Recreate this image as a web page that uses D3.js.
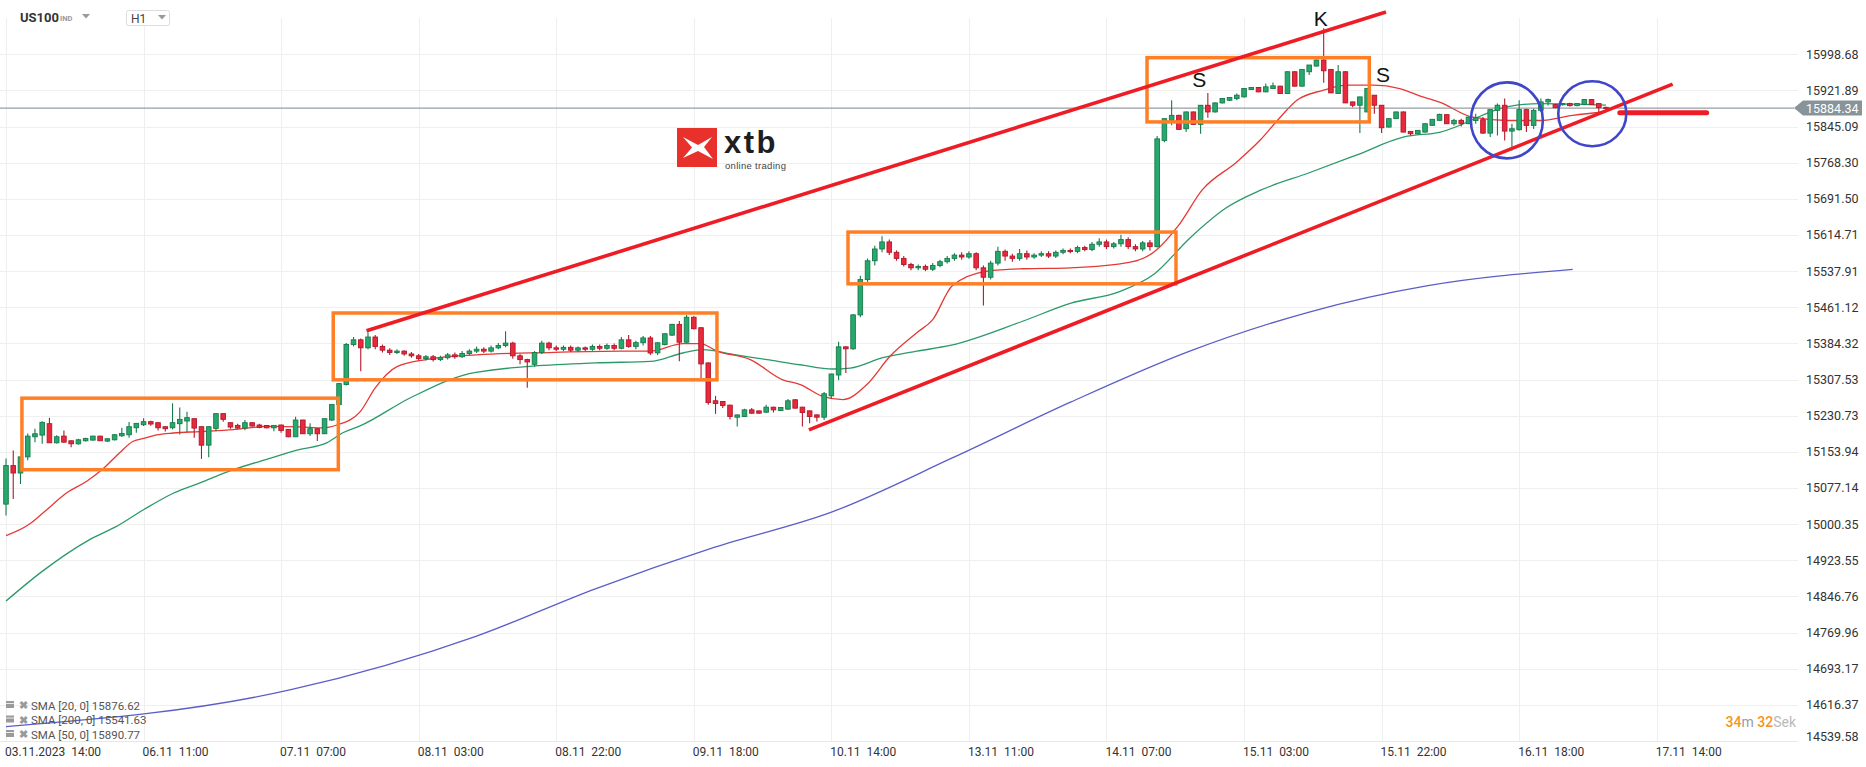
<!DOCTYPE html>
<html><head><meta charset="utf-8">
<script src="https://cdn.jsdelivr.net/npm/d3@7"></script>
<style>
body{margin:0;background:#fff;}
svg{display:block;font-family:Roboto,"Liberation Sans",Arial,sans-serif;}
</style>
</head><body>
<svg id="chart" width="1866" height="767"></svg>
<script>
// ---------------- DATA ----------------
const opens = [15042.9,15124.8,15109,15143.3,15186,15189.6,15213.8,15173.2,15187.4,15177.5,15171.1,15177.5,15178.9,15187.4,15176.8,15179.6,15188.2,15190.3,15205.2,15211.6,
15218.1,15215.9,15207.4,15205.2,15213.8,15219.5,15224.5,15207.4,15168.2,15203.8,15235.2,15215.9,15210.2,15204.5,15215.9,15211,15210,15205,15211,15201.7,
15186,15221.6,15192.4,15203.1,15192.4,15221.6,15254.4,15297,15382,15392,15375,15398,15378,15370,15365,15368,15362,15358,15352,15356,
15350,15354,15360,15356,15363,15368,15372,15368,15375,15380,15385,15358,15350,15340,15365,15385,15375,15372,15376,15370,
15375,15372,15378,15374,15380,15374,15392,15378,15386,15396,15364.3,15382,15402,15424.8,15387,15440,15417.7,15342.9,15262.5,15261,
15253.2,15227.6,15229,15243.2,15241,15238.2,15248.9,15241.8,15244.7,15264.6,15248.9,15241,15232.5,15227.6,15273,15317.3,15377.1,15372.9,15445,15520,
15560,15585,15600,15578,15565,15552,15545,15548,15542,15550,15558,15565,15572,15568,15575,15545,15525,15555,15580,15570,
15565,15575,15568,15572,15575,15570,15578,15582,15580,15588,15584,15595,15600,15590,15596,15605,15590,15585,15598,15590,
15815.6,15858.4,15869,15840.5,15876.2,15849.8,15890.4,15876.2,15895.4,15901,15904.7,15908.2,15924,15928.2,15918.9,15926,15931,15915.3,15961.6,15931,
15961.6,15973.7,15986.5,15966.6,15915.3,15961.6,15897.5,15890.4,15876.2,15911.8,15890.4,15844.1,15861.9,15876.2,15834.8,15829.9,15833.4,15847.7,15858.4,15870.4,
15851.2,15858.3,15851.2,15858,15859.7,15831.2,15879.6,15890.4,15835.5,15838.4,15881.1,15847.6,15879.6,15897.5,15891.8,15892,15894,15889.6,15891.8,15902.5,
15894,15886];
const highs = [15139.7,15156.8,15143.3,15193.1,15203,15218.8,15226.6,15189,15199.5,15178,15181.8,15184,15188,15188,15183,15192,15205.2,15217.3,15215,15225.2,
15220.2,15216.5,15208,15257.2,15248,15239.4,15225,15208,15208.8,15235.2,15235.5,15216.5,15213.8,15221.6,15216.5,15213.8,15211,15210.8,15211.5,15202,
15228.7,15222,15214.5,15203.5,15224.5,15254.4,15300,15385,15398,15395,15408,15402,15382,15374,15372,15370,15366,15362,15360,15360,
15358,15364,15365,15368,15372,15378,15376,15380,15385,15410,15388,15362,15352,15368,15390,15388,15380,15380,15380,15378,
15378,15382,15382,15384,15384,15398,15402,15390,15400,15400,15387,15406,15426,15432,15445,15442,15419,15344,15273,15262,
15254,15233,15245.5,15247,15242,15253.9,15250,15249,15266,15266,15250,15242,15233.5,15281,15320,15387.8,15378,15447,15528,15565,
15592,15612,15605,15582,15570,15556,15552,15552,15555,15562,15570,15576,15578,15580,15578,15550,15560,15590,15584,15575,
15585,15582,15576,15580,15580,15582,15586,15586,15592,15592,15600,15608,15605,15600,15615,15610,15595,15602,15604,15825,
15862,15901,15870,15877,15877,15891,15916.7,15896,15905.5,15907.5,15915.3,15927,15929,15929,15936.7,15938.8,15932,15962.5,15962.5,15967.5,
15975.9,15987.5,16054,15967.5,15975.9,15963,15898,15908.2,15926,15912,15891,15863,15877,15877,15835.5,15838,15852,15861,15872.5,15871,
15861.9,15861.9,15866,15872.5,15865.4,15881.5,15893.9,15904.6,15851.2,15901,15883,15883,15904.6,15905,15893,15895,15895.5,15895,15903.5,15903.5,
15895,15887];
const lows = [15018.7,15053.6,15085.6,15136.2,15174.6,15171.1,15173,15171.8,15173.2,15164,15169,15176,15178,15177,15175,15178,15185.3,15183.9,15194.6,15208.8,
15209.5,15199.5,15197.4,15201.7,15191,15196,15183.9,15139,15142.6,15198,15218,15203,15203,15200,15208,15204,15204,15198,15194.6,15185,
15185.5,15192,15187.4,15176.8,15192,15219.5,15252,15295,15378,15325,15372,15372,15365,15360,15362,15358,15354,15348,15348,15346,
15347,15350,15352,15354,15360,15364,15364,15365,15372,15376,15352,15340,15290,15335,15362,15370,15368,15368,15366,15366,
15368,15369,15370,15371,15370,15372,15375,15372,15380,15360,15360,15380,15400,15346.5,15385,15414,15310.9,15253.9,15234.7,15247,
15222.6,15207.6,15228,15235,15235,15237,15237.5,15240.5,15243.5,15246,15207.6,15214.8,15218.3,15221.9,15266.7,15305.9,15321.6,15371,15440,15515,
15550,15578,15572,15560,15548,15540,15540,15538,15538,15546,15554,15560,15562,15564,15540,15465,15520,15550,15560,15558,
15560,15562,15564,15568,15566,15566,15574,15576,15576,15580,15580,15590,15585,15586,15590,15585,15580,15580,15582,15588,
15812,15847.7,15838,15833.4,15849,15829.9,15864,15875,15894,15900,15901,15907,15923,15918,15918,15925,15915,15914.5,15929.6,15930,
15954.5,15973,15938,15916.7,15915,15895,15886,15831.3,15876,15872.6,15831.3,15843,15861,15833,15826,15829,15832.5,15847,15857.5,15851,
15847.6,15845.5,15850.5,15851,15829.8,15822.7,15826.2,15815.6,15794.2,15836.9,15833.4,15840,15876,15890,15884,15890,15888,15888.5,15890.5,15891,
15876.1,15882.5];
const closes = [15124.8,15109,15143.3,15187.4,15192.4,15216.6,15173.2,15186,15174.6,15171.1,15179.6,15182.5,15187.4,15177.5,15181.8,15190.3,15193.1,15207.4,15214.5,15218.1,
15213.1,15205.2,15203.1,15215.9,15223,15226.6,15204.5,15168.2,15207.4,15235.2,15223,15206.7,15204.5,15215.9,15208.8,15206,15205,15210.2,15199.5,15186,
15221.6,15192.4,15203.1,15192.4,15224.5,15254.4,15299,15382,15392,15375,15398,15378,15370,15365,15368,15362,15358,15352,15356,15350,
15354,15360,15356,15363,15368,15372,15368,15375,15380,15385,15358,15350,15345,15365,15385,15375,15372,15376,15370,15375,
15372,15378,15374,15380,15374,15392,15378,15386,15396,15364,15385.7,15404.9,15424.8,15387,15440,15415.6,15340.8,15258.9,15256.8,15252.5,
15229,15232.5,15243.2,15236.1,15236.1,15248.9,15243.2,15248.2,15262.5,15246.8,15237.5,15229,15227.6,15277.4,15319.4,15377.1,15372.9,15445,15520,15560,
15585,15600,15578,15565,15552,15545,15548,15542,15550,15558,15565,15572,15568,15575,15545,15525,15555,15580,15570,15565,
15575,15568,15572,15575,15570,15578,15582,15580,15588,15584,15595,15600,15590,15596,15605,15590,15585,15598,15590,15819,
15861.9,15869,15839.1,15876.2,15849.8,15890.4,15876.2,15895.4,15904.7,15906.8,15911.8,15926,15928.2,15918.9,15929.6,15931.7,15915.3,15961.6,15931,15966.6,
15975.9,15986.5,15963.7,15916.7,15961.6,15895.4,15890.4,15908.2,15926,15890.4,15842.6,15861.9,15876.2,15833.4,15829.9,15837,15851.2,15860.5,15871,15851.2,
15858.3,15851.2,15865.4,15864,15831.2,15881.1,15890.4,15835.5,15840.5,15881.1,15847.6,15879.6,15897.5,15902.5,15885.4,15894,15889.6,15894,15902.5,15891.8,
15885.4,15884.34];

// moving averages: [bar index, value]
const sma20 = [[0,14976],[3.1,14999],[5.1,15024],[8.4,15067],[11.1,15091],[13.4,15118],[15.7,15152],[17.5,15176],[18.9,15182],[20.8,15190],[23.1,15194],[26.8,15197],[31.4,15201],[36,15208],[40.6,15207],[43.8,15205],[45.7,15211],[48.9,15239],[51,15290],[54,15335],[58,15350],[65,15360],[75,15365],[85,15368],[89,15368],[93.5,15384],[95.9,15384],[98.2,15368],[102.8,15350],[107.3,15307],[109.7,15297],[112.8,15272],[115.6,15265],[118.9,15297],[122.1,15357],[125.8,15407],[128,15435],[130.7,15507],[135.6,15538],[140.5,15543],[147,15545],[155.3,15557],[158.6,15579],[161.9,15634],[165.2,15710],[170,15770],[173.2,15816],[176,15865],[178.3,15901],[181.9,15922],[185.2,15933],[188.9,15933],[192.5,15926],[195.7,15908],[198,15897],[202.6,15865],[207.3,15858],[211.9,15858],[216.4,15869],[221,15876.62]];
const sma50 = [[0,14837],[5,14900],[11.5,14967],[15.2,14995],[19,15031],[23.1,15066],[26.8,15088],[31.4,15116],[36,15138],[40.6,15159],[44.3,15173],[46.6,15195],[48.9,15209],[56,15270],[64.9,15323],[81.4,15343],[89,15346],[93.5,15364],[96.3,15371],[100.4,15361],[105.1,15350],[109.7,15339],[114.2,15330],[116.6,15332],[121.1,15354],[125.8,15368],[130.4,15380],[140.5,15432],[147.1,15470],[153.7,15494],[158.6,15532],[163.5,15608],[168.5,15672],[173.3,15710],[180,15747],[186.6,15785],[193.1,15823],[198,15833],[207.3,15887],[211.9,15894],[221,15890.77]];
const sma200 = [[0,14570],[39.2,14648],[64.9,14762],[81.4,14863],[97.8,14951],[114.2,15027],[130.7,15141],[147.1,15260],[163.5,15368],[180,15451],[196.4,15507],[216.4,15541.63]];

const yTicks = [14539.58,14616.37,14693.17,14769.96,14846.76,14923.55,15000.35,15077.14,15153.94,15230.73,15307.53,15384.32,15461.12,15537.91,15614.71,15691.50,15768.30,15845.09,15921.89,15998.68];
const xTickBars = [0,19,38,57,76,95,114,133,152,171,190,209,228];
const xTickLabels = ["03.11.2023  14:00","06.11  11:00","07.11  07:00","08.11  03:00","08.11  22:00","09.11  18:00","10.11  14:00","13.11  11:00","14.11  07:00","15.11  03:00","15.11  22:00","16.11  18:00","17.11  14:00"];
const lastPrice = 15884.34;

// annotations in data space [bar, price]
const boxes = [[[2.2,15268],[45.9,15116]],[[45.2,15449],[98.2,15307]],[[116.3,15621],[161.6,15511]],[[157.6,15991.5],[188.3,15855]]];
const trendLines = [[[49.8,15411.4],[190.6,16088.5]],[[110.9,15200.5],[230.2,15935.2]]];
const levelLine = [[222.9,15874.7],[234.9,15874.7]];
const circles = [[207.3,15858.3],[219.1,15872.5]];
const labels = [["K",181.6,16058],["S",164.8,15930],["S",190.2,15940.5]];
const legendItems = ["SMA [20, 0] 15876.62","SMA [200, 0] 15541.63","SMA [50, 0] 15890.77"];

// ---------------- DRAW ----------------
const W = 1866, H = 767;
const plotRight = 1798, axisY = 741;
const svg = d3.select("#chart");
const x = d3.scaleLinear().domain([0,228]).range([6, 6+7.24*228]);
const y = d3.scaleLinear().domain([14539.58,15998.68]).range([741,54.3]);

svg.append("rect").attr("width",W).attr("height",H).attr("fill","#fff");

// grid
const grid = svg.append("g");
grid.selectAll(".hg").data(yTicks).join("line")
  .attr("x1",0).attr("x2",plotRight).attr("y1",d=>Math.round(y(d))+0.5).attr("y2",d=>Math.round(y(d))+0.5)
  .attr("stroke","#efefef").attr("stroke-width",1);
grid.selectAll(".vg").data(xTickBars).join("line")
  .attr("x1",d=>Math.round(x(d))+0.5).attr("x2",d=>Math.round(x(d))+0.5).attr("y1",18).attr("y2",axisY)
  .attr("stroke","#efefef").attr("stroke-width",1);
svg.append("line").attr("x1",0).attr("x2",plotRight).attr("y1",axisY+0.5).attr("y2",axisY+0.5).attr("stroke","#e8e8e8");

// logo
const logo = svg.append("g");
logo.append("rect").attr("x",677).attr("y",128).attr("width",40).attr("height",39).attr("fill","#e8312a");
logo.append("path").attr("d","M683 137 L698 145 L712 137 L704 147 L713 159 L698 151 L683 158 L692 147.5 Z").attr("fill","#fff");
logo.append("text").attr("x",724).attr("y",153).attr("font-size",31).attr("font-weight","bold").attr("fill","#1e1e1e").attr("font-family","Arial,'Liberation Sans',sans-serif").attr("letter-spacing",2.5).text("xtb");
logo.append("text").attr("x",725).attr("y",168.5).attr("font-size",9.5).attr("fill","#444").attr("font-family","Arial,'Liberation Sans',sans-serif").attr("letter-spacing",0.3).text("online trading");

// SMA lines
const line = d3.line().x(d=>x(d[0])).y(d=>y(d[1])).curve(d3.curveMonotoneX);
svg.append("path").datum(sma200).attr("d",line).attr("fill","none").attr("stroke","#5a5fc8").attr("stroke-width",1.3);
svg.append("path").datum(sma50).attr("d",line).attr("fill","none").attr("stroke","#2a9a68").attr("stroke-width",1.3);
svg.append("path").datum(sma20).attr("d",line).attr("fill","none").attr("stroke","#e53935").attr("stroke-width",1.3);

// price line
svg.append("line").attr("x1",0).attr("x2",plotRight-4).attr("y1",y(lastPrice)).attr("y2",y(lastPrice)).attr("stroke","#7d878c").attr("stroke-width",1);

// candles
const bars = d3.range(opens.length);
const bw = 4.6;
const cg = svg.append("g");
cg.selectAll(".wick").data(bars).join("line")
  .attr("x1",i=>x(i)).attr("x2",i=>x(i)).attr("y1",i=>y(highs[i])).attr("y2",i=>y(lows[i]))
  .attr("stroke",i=>closes[i]>=opens[i]?"#177a4b":"#b3172a").attr("stroke-width",1.1);
cg.selectAll(".body").data(bars).join("rect")
  .attr("x",i=>x(i)-bw/2).attr("width",bw)
  .attr("y",i=>y(Math.max(opens[i],closes[i])))
  .attr("height",i=>Math.max(1.2,Math.abs(y(opens[i])-y(closes[i]))))
  .attr("fill",i=>closes[i]>=opens[i]?"#27a96d":"#e8293b")
  .attr("stroke",i=>closes[i]>=opens[i]?"#177a4b":"#b3172a").attr("stroke-width",0.9);

// boxes
svg.selectAll(".box").data(boxes).join("rect")
  .attr("x",d=>x(d[0][0])).attr("y",d=>y(d[0][1]))
  .attr("width",d=>x(d[1][0])-x(d[0][0])).attr("height",d=>y(d[1][1])-y(d[0][1]))
  .attr("fill","none").attr("stroke","#ff7f27").attr("stroke-width",3.5);

// trend lines
svg.selectAll(".tl").data(trendLines).join("line")
  .attr("x1",d=>x(d[0][0])).attr("y1",d=>y(d[0][1])).attr("x2",d=>x(d[1][0])).attr("y2",d=>y(d[1][1]))
  .attr("stroke","#ee1c25").attr("stroke-width",3.6);
svg.append("line").attr("x1",x(levelLine[0][0])).attr("x2",x(levelLine[1][0])).attr("y1",y(levelLine[0][1])).attr("y2",y(levelLine[1][1]))
  .attr("stroke","#ee1c25").attr("stroke-width",5).attr("stroke-linecap","round");

// circles
const radii = [[36,38],[34,32.5]];
svg.selectAll(".circ").data(circles).join("ellipse")
  .attr("cx",d=>x(d[0])).attr("cy",d=>y(d[1])).attr("rx",(d,i)=>radii[i][0]).attr("ry",(d,i)=>radii[i][1])
  .attr("fill","none").attr("stroke","#3f46c9").attr("stroke-width",2.6);

// K / S labels
svg.selectAll(".lab").data(labels).join("text")
  .attr("x",d=>x(d[1])).attr("y",d=>y(d[2])).attr("text-anchor","middle")
  .attr("font-size",21).attr("font-family","Arial,'Liberation Sans',sans-serif").attr("fill","#111").text(d=>d[0]);

// y axis labels
svg.selectAll(".yl").data(yTicks).join("text")
  .attr("x",1806).attr("y",(d,i)=>y(d)+(i===0?-4:0)).attr("dy","0.35em")
  .attr("font-size",12.5).attr("fill","#333").text(d=>d.toFixed(2));

// price tag
const py = y(lastPrice);
svg.append("path").attr("d",`M1794 ${py} L1803 ${py-7.5} L1862 ${py-7.5} L1862 ${py+7.5} L1803 ${py+7.5} Z`).attr("fill","#88949a");
svg.append("text").attr("x",1806).attr("y",py).attr("dy","0.36em").attr("font-size",12.5).attr("fill","#fff").text(lastPrice.toFixed(2));

// x axis labels
svg.selectAll(".xl").data(xTickBars).join("text")
  .attr("x",d=>x(d)-1).attr("y",756).attr("font-size",12).attr("fill","#333").style("white-space","pre")
  .text((d,i)=>xTickLabels[i]);

// legend
const lg = svg.append("g");
legendItems.forEach((t,i)=>{
  const ly = 706 + i*14.5;
  lg.append("rect").attr("x",6).attr("y",ly-5).attr("width",8).attr("height",7).attr("fill","#9a9a9a");
  lg.append("line").attr("x1",6).attr("x2",14).attr("y1",ly-2.5).attr("y2",ly-2.5).attr("stroke","#fff").attr("stroke-width",0.8);
  lg.append("text").attr("x",19).attr("y",ly+3).attr("font-size",11).attr("font-weight","bold").attr("fill","#9a9a9a").text("\u2716");
  lg.append("text").attr("x",31).attr("y",ly+3.5).attr("font-size",11.5).attr("fill","#555").style("white-space","pre").text(t);
});

// timer
const tm = svg.append("text").attr("x",1796).attr("y",727).attr("text-anchor","end").attr("font-size",14);
tm.append("tspan").attr("fill","#f7941d").attr("font-weight","500").text("34");
tm.append("tspan").attr("fill","#9b9b9b").text("m ");
tm.append("tspan").attr("fill","#f7941d").attr("font-weight","500").text("32");
tm.append("tspan").attr("fill","#b9b9b9").text("Sek");

// header
svg.append("text").attr("x",20).attr("y",22).attr("font-size",13).attr("font-weight","bold").attr("fill","#333").text("US100");
svg.append("text").attr("x",60).attr("y",21).attr("font-size",7.5).attr("font-weight","bold").attr("fill","#9a9a9a").text("IND");
svg.append("path").attr("d","M82 14 L90 14 L86 18.5 Z").attr("fill","#999");
svg.append("rect").attr("x",126.5).attr("y",10.5).attr("width",43).attr("height",15).attr("rx",2).attr("fill","#fff").attr("stroke","#ddd");
svg.append("text").attr("x",131).attr("y",23).attr("font-size",12).attr("fill","#444").text("H1");
svg.append("path").attr("d","M158 15 L166 15 L162 19.5 Z").attr("fill","#999");
</script>
</body></html>
